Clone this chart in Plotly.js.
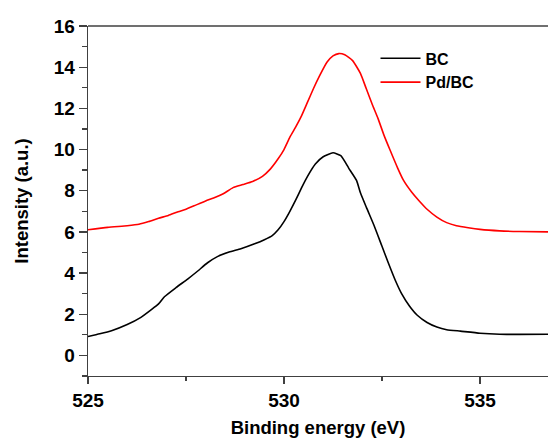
<!DOCTYPE html>
<html>
<head>
<meta charset="utf-8">
<script src="https://cdn.plot.ly/plotly-3.0.1.min.js"></script>
<style>
  html, body { margin: 0; padding: 0; background: #fff; }
  #chart { width: 548px; height: 442px; }
</style>
</head>
<body>
<div id="chart"></div>
<script>
// O 1s XPS spectra: binding energy (eV) vs intensity (a.u.)
const energyBC = [525.0, 525.3, 525.6, 526.0, 526.35, 526.6, 526.8, 526.95, 527.25, 527.55,
  527.8, 528.05, 528.3, 528.6, 528.9, 529.25, 529.5, 529.7, 529.85, 530.0,
  530.15, 530.3, 530.45, 530.6, 530.8, 531.0, 531.25, 531.45, 531.65, 531.85,
  531.95, 532.1, 532.3, 532.5, 532.65, 532.85, 533.0, 533.2, 533.4, 533.65,
  533.9, 534.15, 534.5, 535.0, 535.5, 536.0, 536.75];
const intensityBC = [0.92, 1.05, 1.2, 1.5, 1.85, 2.2, 2.5, 2.85, 3.3, 3.72,
  4.1, 4.5, 4.8, 5.02, 5.18, 5.42, 5.62, 5.82, 6.1, 6.5,
  7.0, 7.55, 8.15, 8.7, 9.3, 9.65, 9.84, 9.7, 9.1, 8.5,
  7.9, 7.2, 6.3, 5.3, 4.55, 3.6, 3.0, 2.4, 1.95, 1.6,
  1.38, 1.25, 1.18, 1.08, 1.03, 1.02, 1.03];

const energyPd = [525.0, 525.5, 526.0, 526.3, 526.55, 526.8, 527.05, 527.3, 527.5, 527.75,
  528.0, 528.25, 528.45, 528.7, 528.95, 529.2, 529.45, 529.65, 529.85, 530.0,
  530.15, 530.3, 530.45, 530.6, 530.75, 530.9, 531.1, 531.25, 531.4, 531.55,
  531.75, 531.95, 532.1, 532.25, 532.4, 532.55, 532.7, 532.9, 533.05, 533.25,
  533.45, 533.65, 533.9, 534.15, 534.4, 534.7, 535.0, 535.5, 536.0, 536.75];
const intensityPd = [6.1, 6.22, 6.3, 6.37, 6.5, 6.66, 6.8, 6.98, 7.1, 7.3,
  7.5, 7.68, 7.85, 8.15, 8.3, 8.45, 8.7, 9.05, 9.55, 10.0,
  10.6, 11.1, 11.65, 12.3, 12.95, 13.55, 14.25, 14.55, 14.66, 14.6,
  14.32, 13.7, 12.95, 12.2, 11.5, 10.7, 10.0, 9.1, 8.5, 7.95,
  7.5, 7.1, 6.72, 6.45, 6.3, 6.2, 6.12, 6.05, 6.02, 6.0];

const seriesNames = ['BC', 'Pd/BC'];
const xTickVals = [525, 530, 535];
const yTickVals = [0, 2, 4, 6, 8, 10, 12, 14, 16];

const fontFamily = '"Liberation Sans", Arial, sans-serif';
const axisColor = '#404040';

const traces = [
  { x: energyBC, y: intensityBC, name: seriesNames[0], mode: 'lines',
    line: { color: '#000000', width: 1.6, shape: 'spline', smoothing: 0.5 } },
  { x: energyPd, y: intensityPd, name: seriesNames[1], mode: 'lines',
    line: { color: '#ff0000', width: 1.6, shape: 'spline', smoothing: 0.5 } }
];

const layout = {
  width: 548, height: 442,
  margin: { l: 88, r: 0, t: 26, b: 66 },
  paper_bgcolor: '#ffffff', plot_bgcolor: '#ffffff',
  font: { family: fontFamily, color: '#000000' },
  showlegend: true,
  legend: {
    x: 0.625, y: 0.956, xanchor: 'left', yanchor: 'top',
    bgcolor: 'rgba(0,0,0,0)', borderwidth: 0,
    font: { size: 16, weight: 'bold', family: fontFamily },
    itemwidth: 40, tracegroupgap: 0
  },
  xaxis: {
    range: [525, 536.735], showgrid: false, zeroline: false,
    showline: true, linecolor: axisColor, linewidth: 1.3, mirror: false,
    tickmode: 'array', tickvals: xTickVals,
    ticks: 'outside', ticklen: 7, tickwidth: 1.3, tickcolor: axisColor,
    tickfont: { size: 19, weight: 'bold', family: fontFamily },
    minor: { dtick: 2.5, tick0: 525, ticks: 'outside', ticklen: 4, tickwidth: 1.3, tickcolor: axisColor, showgrid: false },
    title: { text: 'Binding energy (eV)', font: { size: 18.5, weight: 'bold', family: fontFamily }, standoff: 11 }
  },
  yaxis: {
    range: [-1, 16], showgrid: false, zeroline: false,
    showline: true, linecolor: axisColor, linewidth: 1.3,
    tickmode: 'array', tickvals: yTickVals,
    ticks: 'outside', ticklen: 8, tickwidth: 1.3, tickcolor: axisColor,
    tickfont: { size: 19, weight: 'bold', family: fontFamily },
    minor: { dtick: 1, tick0: -1, ticks: 'outside', ticklen: 5, tickwidth: 1.3, tickcolor: axisColor, showgrid: false },
    title: { text: 'Intensity (a.u.)', font: { size: 18.5, weight: 'bold', family: fontFamily }, standoff: 20 }
  },
  shapes: [
    // frame line along the top of the plot area
    { type: 'line', xref: 'paper', yref: 'paper', x0: 0, x1: 1, y0: 1, y1: 1,
      line: { color: axisColor, width: 1.3 } }
  ]
};

Plotly.newPlot('chart', traces, layout, { displayModeBar: false, staticPlot: true });
</script>
</body>
</html>
